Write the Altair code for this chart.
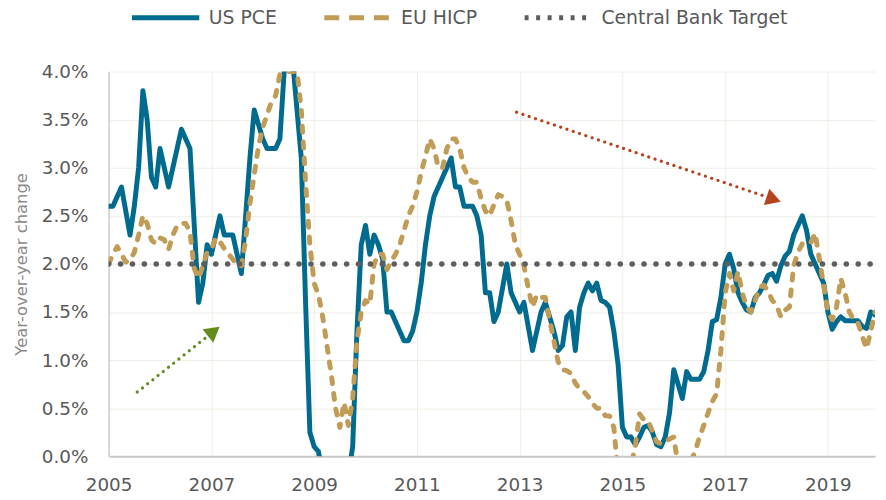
import altair as alt
import pandas as pd

# ---------------- data ----------------
start_year = 2005  # monthly observations, Jan 2005 - Dec 2019

us_pce = [
    2.6, 2.6, 2.7, 2.8, 2.55, 2.3, 2.6, 3.0, 3.8, 3.5,
    2.9, 2.8, 3.2, 3.0, 2.8, 3.0, 3.2, 3.4, 3.3, 3.2,
    2.4, 1.6, 1.8, 2.2, 2.1, 2.3, 2.5, 2.3, 2.3, 2.3,
    2.1, 1.9, 2.5, 3.1, 3.6, 3.45, 3.3, 3.2, 3.2, 3.2,
    3.3, 4.0, 4.2, 4.1, 3.6, 3.1, 1.6, 0.25, 0.1, 0.05,
    -0.2, -0.5, -0.7, -0.8, -0.6, -0.4, -0.2, 0.1, 1.3, 2.2,
    2.4, 2.1, 2.3, 2.2, 2.05, 1.5, 1.5, 1.4, 1.3, 1.2,
    1.2, 1.3, 1.5, 1.8, 2.2, 2.5, 2.7, 2.8, 2.9, 3.0,
    3.1, 2.8, 2.8, 2.6, 2.6, 2.6, 2.5, 2.3, 1.7, 1.7,
    1.4, 1.5, 1.75, 2.0, 1.7, 1.6, 1.5, 1.6, 1.35, 1.1,
    1.3, 1.5, 1.6, 1.45, 1.3, 1.1, 1.15, 1.45, 1.5, 1.1,
    1.55, 1.7, 1.8, 1.72, 1.8, 1.62, 1.6, 1.55, 1.3, 0.95,
    0.3, 0.2, 0.2, 0.12, 0.2, 0.3, 0.32, 0.25, 0.12, 0.1,
    0.2, 0.45, 0.9, 0.75, 0.6, 0.88, 0.8, 0.8, 0.8, 0.88,
    1.1, 1.4, 1.42, 1.65, 2.0, 2.1, 1.95, 1.7, 1.6, 1.52,
    1.5, 1.65, 1.7, 1.78, 1.88, 1.9, 1.82, 1.98, 2.08, 2.13,
    2.3, 2.4, 2.5, 2.35, 2.1, 2.0, 1.9, 1.8, 1.5, 1.32,
    1.4, 1.45, 1.41, 1.41, 1.41, 1.41, 1.35, 1.33, 1.5, 1.47,
]

eu_hicp = [
    2.0, 2.1, 2.18, 2.1, 2.02, 2.04, 2.12, 2.3, 2.5, 2.42,
    2.25, 2.21, 2.27, 2.25, 2.15, 2.3, 2.4, 2.42, 2.42, 2.33,
    1.95, 1.85, 1.98, 2.12, 2.15, 2.27, 2.23, 2.16, 2.1, 2.05,
    1.98, 1.98, 2.25, 2.63, 2.93, 3.22, 3.42, 3.55, 3.68, 3.75,
    3.97, 4.0, 4.0, 4.0, 4.0, 3.6, 2.85, 2.2, 1.8, 1.68,
    1.45, 1.15, 0.85, 0.5, 0.3, 0.56, 0.32, 0.6, 1.2, 1.5,
    1.62, 1.58, 2.0, 2.1, 2.1, 1.94, 2.03, 2.1, 2.2, 2.35,
    2.5, 2.6, 2.75, 2.95, 3.12, 3.3, 3.2, 3.0, 3.0, 3.2,
    3.3, 3.3, 3.2, 3.0, 2.9, 2.85, 2.85, 2.68, 2.55, 2.5,
    2.62, 2.72, 2.7, 2.66, 2.45, 2.2, 2.1, 1.98, 1.75, 1.55,
    1.68, 1.65, 1.65, 1.42, 1.2, 0.98, 0.9, 0.89, 0.86, 0.76,
    0.7, 0.67, 0.62, 0.55, 0.5, 0.5, 0.42, 0.42, 0.3, -0.2,
    -0.6, -0.3, -0.1, 0.1, 0.44, 0.38, 0.37, 0.26, 0.15, 0.13,
    0.15, 0.18, 0.2, -0.1, -0.2, -0.1, -0.05, 0.05, 0.2, 0.32,
    0.45, 0.57, 0.65, 1.1, 1.7, 1.9, 1.72, 1.92, 1.7, 1.55,
    1.5, 1.62, 1.75, 1.78, 1.72, 1.62, 1.57, 1.45, 1.52, 1.55,
    1.98, 2.12, 2.21, 2.21, 2.22, 2.32, 2.05, 1.78, 1.5, 1.42,
    1.55, 1.85, 1.7, 1.5, 1.42, 1.39, 1.25, 1.12, 1.3, 1.5,
]

target_rate = 2.0
series_names = ["US PCE", "EU HICP", "Central Bank Target"]
x_tick_values = [2005, 2007, 2009, 2011, 2013, 2015, 2017, 2019]
y_tick_values = [0.0, 0.5, 1.0, 1.5, 2.0, 2.5, 3.0, 3.5, 4.0]
y_title = "Year-over-year change"

# annotation arrows (data units: year, percent)
green_arrow_from = [2005.556, 0.667]
green_arrow_head = [2007.046, 1.299]
red_arrow_from = [2012.94, 3.577]
red_arrow_head = [2017.944, 2.672]

# ---------------- styling ----------------
FONT = "DejaVu Sans"
TEAL = "#006b8f"
TAN = "#c09c57"
GRAY = "#5e5e5e"
GREEN = "#638c1c"
RED = "#b5431e"
TEXT = "#595959"

months = [start_year + i / 12 for i in range(len(us_pce))]
x_end = months[-1]

df_pce = pd.DataFrame({"t": months, "v": us_pce, "series": series_names[0]})
df_hicp = pd.DataFrame({"t": months, "v": eu_hicp, "series": series_names[1]})
df_target = pd.DataFrame({"t": [start_year, x_end], "v": [target_rate, target_rate],
                          "series": series_names[2]})

x_scale = alt.Scale(domain=[start_year, x_end], nice=False, zero=False)
y_scale = alt.Scale(domain=[0, 4], nice=False, zero=False)
color_scale = alt.Scale(domain=series_names, range=[TEAL, TAN, GRAY])
# dash patterns used for the legend symbols
legend_dash_scale = alt.Scale(domain=series_names, range=[[1, 0], [15, 10], [4, 7.6]])

x_axis = alt.Axis(values=x_tick_values, format="d", title=None, ticks=False,
                  labelFlush=False,
                  labelFontSize=18.5, labelColor=TEXT, labelFont=FONT, labelPadding=20,
                  domainColor="#c8c8c8", domainWidth=2,
                  grid=True, gridColor="#efeee6", gridWidth=1)
y_axis = alt.Axis(values=y_tick_values, labelExpr="format(datum.value, '.1f') + '%'",
                  title=y_title, ticks=False, labelFlush=False,
                  labelFontSize=18.5, labelColor=TEXT, labelFont=FONT, labelPadding=21,
                  titleFont=FONT, titleFontSize=16.5, titleFontWeight="normal",
                  titleColor="#8a8a8a", titleAngle=270, titleX=-88, titleY=194,
                  titleAlign="center", titleBaseline="middle",
                  domainColor="#d6d6d6", domainWidth=2,
                  grid=True, gridColor="#efeee6", gridWidth=1)

legend = alt.Legend(title=None, orient="none", direction="horizontal",
                    legendX=21, legendY=-91, symbolType="stroke", symbolSize=4600,
                    symbolStrokeWidth=5, labelFontSize=19, labelColor=TEXT,
                    labelFont=FONT, labelOffset=7, columnPadding=37, labelLimit=400)

X = alt.X("t:Q", scale=x_scale, axis=x_axis)
Y = alt.Y("v:Q", scale=y_scale, axis=y_axis)
COLOR = alt.Color("series:N", scale=color_scale, legend=legend)
DASH = alt.StrokeDash("series:N", scale=legend_dash_scale, legend=legend)

pce_layer = alt.Chart(df_pce).mark_line(
    strokeWidth=5, strokeCap="round", strokeJoin="round", clip=True
).encode(x=X, y=Y, color=COLOR, strokeDash=DASH)

hicp_layer = alt.Chart(df_hicp).mark_line(
    strokeWidth=5, strokeCap="round", strokeJoin="round", clip=True, strokeDash=[6, 10]
).encode(x=X, y=Y, color=COLOR)

target_layer = alt.Chart(df_target).mark_line(
    strokeWidth=5.5, strokeCap="round", clip=True, strokeDash=[0.1, 11.9]
).encode(x=X, y=Y, color=COLOR)


def arrow_layers(start, head, color, angle):
    df_line = pd.DataFrame({"t": [start[0]], "v": [start[1]], "t2": [head[0]], "v2": [head[1]]})
    df_head = pd.DataFrame({"t": [head[0]], "v": [head[1]]})
    line = alt.Chart(df_line).mark_rule(color=color, strokeWidth=3.2, strokeCap="round",
                                        strokeDash=[0.1, 6.6]).encode(
        x=X, y=Y, x2="t2:Q", y2="v2:Q")
    tip = alt.Chart(df_head).mark_point(shape="triangle-up", filled=True, size=300,
                                        angle=angle, color=color, opacity=1).encode(x=X, y=Y)
    return [line, tip]


layers = [pce_layer, hicp_layer, target_layer]
layers += arrow_layers(green_arrow_from, green_arrow_head, GREEN, 51.6)
layers += arrow_layers(red_arrow_from, red_arrow_head, RED, 108.7)

chart = alt.layer(*layers).properties(
    width=773, height=388,
    padding={"left": 101.5, "top": 62, "right": 3, "bottom": 40},
    autosize=alt.AutoSizeParams(type="none"),
    background="white",
).configure_view(stroke=None)

chart.save("out.html", embed_options={"renderer": "svg", "actions": False})
